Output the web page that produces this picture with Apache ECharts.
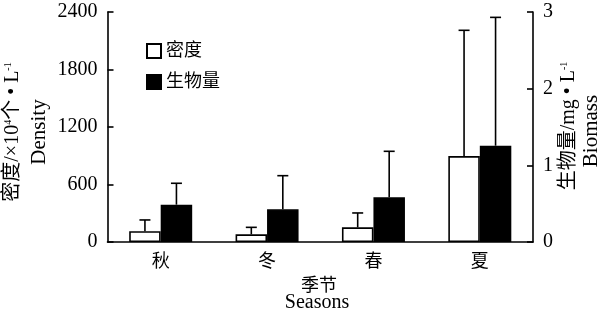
<!DOCTYPE html>
<html><head><meta charset="utf-8">
<script src="https://cdn.jsdelivr.net/npm/echarts@6/dist/echarts.min.js"></script>
<style>html,body{margin:0;padding:0;background:#fff}#c{width:606px;height:321px}</style>
</head><body><div id="c"></div>
<script>
// ---- data ----
const seasons = ['秋', '冬', '春', '夏'];
const densityMean = [112, 80, 153, 897];
const densityErr = [118, 73, 150, 1312];
const biomassMean = [0.487, 0.427, 0.583, 1.256];
const biomassErr = [0.279, 0.438, 0.600, 1.674];
const densityAxis = { min: 0, max: 2400, interval: 600 };
const biomassAxis = { min: 0, max: 3, interval: 1 };
const seriesNames = ['密度', '生物量'];

// ---- styles ----
const SERIF = "'Liberation Serif', 'Noto Sans CJK SC', serif";
const BAR_W = 31.5;
const chart = echarts.init(document.getElementById('c'), null, { renderer: 'canvas' });

function errRender(offset) {
  return function (params, api) {
    const i = api.value(0);
    const base = api.coord([i, api.value(1)]);
    const top = api.coord([i, api.value(2)]);
    const x = base[0] + offset;
    const cap = 5.5;
    const st = { stroke: '#000', lineWidth: 1.6 };
    return {
      type: 'group', children: [
        { type: 'line', shape: { x1: x, y1: base[1], x2: x, y2: top[1] }, style: st },
        { type: 'line', shape: { x1: x - cap, y1: top[1], x2: x + cap, y2: top[1] }, style: st }
      ]
    };
  };
}

const densityErrData = seasons.map((s, i) => [i, densityMean[i], densityMean[i] + densityErr[i]]);
const biomassErrData = seasons.map((s, i) => [i, biomassMean[i], biomassMean[i] + biomassErr[i]]);

const axisLine = { show: true, lineStyle: { color: '#000', width: 1.6 } };
const yCommon = {
  type: 'value',
  axisLine: axisLine,
  axisTick: { show: true, inside: true, length: 6, lineStyle: { color: '#000', width: 1.6 } },
  splitLine: { show: false },
  axisLabel: { color: '#000', fontSize: 20, fontFamily: SERIF, margin: 10, formatter: v => String(v) }
};

chart.setOption({
  backgroundColor: '#fff',
  animation: false,
  grid: { left: 107.5, right: 73, top: 12, bottom: 79, containLabel: false },
  legend: {
    orient: 'vertical', left: 141, top: 37, itemWidth: 14, itemHeight: 14, itemGap: 13,
    icon: 'rect',
    textStyle: { color: '#000', fontSize: 18, fontFamily: SERIF },
    data: seriesNames
  },
  xAxis: {
    type: 'category', data: seasons,
    axisLine: axisLine,
    axisTick: { show: false },
    axisLabel: { color: '#000', fontSize: 18, fontFamily: SERIF, margin: 11 }
  },
  yAxis: [
    Object.assign({}, yCommon, densityAxis, { position: 'left' }),
    Object.assign({}, yCommon, biomassAxis, { position: 'right' })
  ],
  series: [
    {
      name: seriesNames[0], type: 'bar', data: densityMean, yAxisIndex: 0,
      barWidth: BAR_W, barGap: '0%',
      itemStyle: { color: '#fff', borderColor: '#000', borderWidth: 1.6 }
    },
    {
      name: seriesNames[1], type: 'bar', data: biomassMean, yAxisIndex: 1,
      barWidth: BAR_W, barGap: '0%',
      itemStyle: { color: '#000', borderColor: '#000', borderWidth: 1.6 }
    },
    {
      type: 'custom', yAxisIndex: 0, data: densityErrData, renderItem: errRender(-BAR_W / 2),
      encode: { x: 0, y: [1, 2] }, z: 3, silent: true
    },
    {
      type: 'custom', yAxisIndex: 1, data: biomassErrData, renderItem: errRender(BAR_W / 2),
      encode: { x: 0, y: [1, 2] }, z: 3, silent: true
    }
  ],
  graphic: [
    {
      type: 'text', x: 13, y: 132, rotation: Math.PI / 2,
      style: {
        text: '密度/×10{sup|4}个 • L{sup|-1}', x: 0, y: 0, align: 'center', verticalAlign: 'middle',
        fill: '#000', font: '20px ' + SERIF,
        rich: { sup: { fontSize: 10, fontFamily: SERIF, verticalAlign: 'top', fill: '#000' } }
      }
    },
    {
      type: 'text', x: 39, y: 132, rotation: Math.PI / 2,
      style: { text: 'Density', x: 0, y: 0, align: 'center', verticalAlign: 'middle', fill: '#000', font: '21px ' + SERIF }
    },
    {
      type: 'text', x: 569, y: 126, rotation: Math.PI / 2,
      style: {
        text: '生物量/mg • L{sup|-1}', x: 0, y: 0, align: 'center', verticalAlign: 'middle',
        fill: '#000', font: '20px ' + SERIF,
        rich: { sup: { fontSize: 10, fontFamily: SERIF, verticalAlign: 'top', fill: '#000' } }
      }
    },
    {
      type: 'text', x: 591, y: 131, rotation: Math.PI / 2,
      style: { text: 'Biomass', x: 0, y: 0, align: 'center', verticalAlign: 'middle', fill: '#000', font: '21px ' + SERIF }
    },
    {
      type: 'text', x: 319, y: 286,
      style: { text: '季节', x: 0, y: 0, align: 'center', verticalAlign: 'middle', fill: '#000', font: '18px ' + SERIF }
    },
    {
      type: 'text', x: 317, y: 303,
      style: { text: 'Seasons', x: 0, y: 0, align: 'center', verticalAlign: 'middle', fill: '#000', font: '20px ' + SERIF }
    }
  ]
});
</script>
</body></html>
